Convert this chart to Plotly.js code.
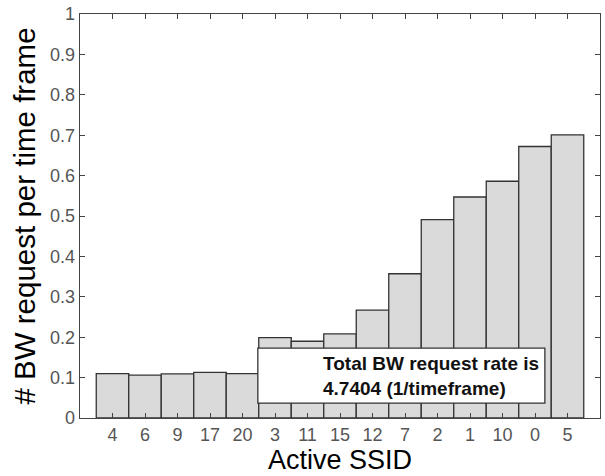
<!DOCTYPE html>
<html><head><meta charset="utf-8">
<script src="https://cdn.plot.ly/plotly-3.0.1.min.js"></script>
<style>html,body{margin:0;padding:0;background:#fff;}#chart{width:605px;height:476px;}</style>
</head><body><div id="chart"></div>
<script>
var ssidLabels = ["4","6","9","17","20","3","11","15","12","7","2","1","10","0","5"];
var bwRate = [0.110,0.106,0.109,0.113,0.110,0.199,0.190,0.208,0.267,0.357,0.491,0.547,0.586,0.672,0.701];
var yTicks = [0,0.1,0.2,0.3,0.4,0.5,0.6,0.7,0.8,0.9,1];
var noteText = "Total BW request rate is<br>4.7404 (1/timeframe)";

var tickFont = {family: "Arial, Liberation Sans, sans-serif", size: 18, color: "#555"};
var titleFont = {family: "Arial, Liberation Sans, sans-serif", size: 27, color: "#000"};

var trace = {
  type: "bar", x: ssidLabels, y: bwRate,
  marker: {color: "#dadada", line: {color: "#333", width: 1.3}},
  hoverinfo: "x+y"
};

var layout = {
  width: 605, height: 476,
  margin: {l: 80, r: 5, t: 14, b: 58},
  paper_bgcolor: "#fff", plot_bgcolor: "#fff",
  bargap: 0, showlegend: false,
  xaxis: {
    type: "category", range: [-1, 15],
    showline: true, linecolor: "#444", linewidth: 1.3, mirror: "ticks",
    ticks: "inside", ticklen: 5, tickcolor: "#444", tickwidth: 1,
    showgrid: false, zeroline: false, tickfont: tickFont,
    title: {text: "Active SSID", font: titleFont, standoff: 0},
    automargin: false
  },
  yaxis: {
    range: [0, 1], tickvals: yTicks,
    showline: true, linecolor: "#444", linewidth: 1.3, mirror: "ticks",
    ticks: "inside", ticklen: 5, tickcolor: "#444", tickwidth: 1,
    showgrid: false, zeroline: false, tickfont: tickFont,
    title: {text: "# BW request per time frame", font: {family: titleFont.family, size: 29.5, color: "#000"}, standoff: 5},
    automargin: false
  },
  shapes: [{
    type: "rect", xref: "paper", yref: "paper",
    x0: 0.342, x1: 0.894, y0: 0.037, y1: 0.173,
    fillcolor: "#fff", line: {color: "#333", width: 1.3}, layer: "above"
  }],
  annotations: [{
    xref: "paper", yref: "paper", x: 0.4635, y: 0.104,
    xanchor: "left", yanchor: "middle", align: "left", showarrow: false,
    text: "<b>" + noteText.replace("<br>", "</b><br><b>") + "</b>",
    font: {family: "Arial, Liberation Sans, sans-serif", size: 19, color: "#111"}
  }]
};

Plotly.newPlot("chart", [trace], layout, {displayModeBar: false, staticPlot: true});
</script>
</body></html>
